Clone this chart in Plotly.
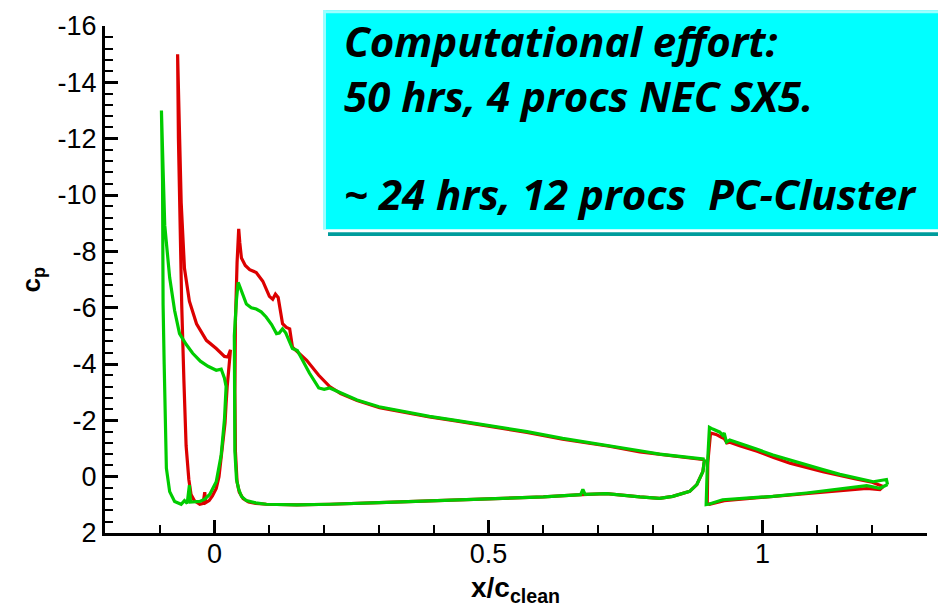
import plotly.graph_objects as go

# ---- Pressure distribution, three-element high-lift airfoil (slat / main / flap) ----
# Each element: upper surface listed from leading-edge peak to trailing edge,
# lower path listed from the same peak down through stagnation and back to the TE.

# Red series
red_slat_upper_x = [-0.0675, -0.064, -0.061, -0.055, -0.046, -0.033, -0.015, 0.003, 0.018, 0.024, 0.027, 0.029, 0.026, 0.023]
red_slat_upper_cp = [-15.0, -12.2, -9.74, -7.4, -6.23, -5.43, -4.84, -4.55, -4.27, -4.25, -4.4, -4.5, -3.9, -3.2]
red_slat_lower_x = [-0.0675, -0.066, -0.063, -0.060, -0.056, -0.052, -0.047, -0.043, -0.037, -0.031, -0.027, -0.021, -0.018, -0.016, -0.010, -0.004, 0.003, 0.008, 0.012, 0.016, 0.019, 0.021, 0.023]
red_slat_lower_cp = [-15.0, -12.0, -8.5, -6.1, -3.4, -1.1, 0.1, 0.63, 0.85, 0.95, 0.98, 0.95, 0.55, 0.92, 0.85, 0.68, 0.42, 0.0, -0.63, -1.3, -1.9, -2.6, -3.2]

red_main_upper_x = [0.044, 0.046, 0.049, 0.056, 0.064, 0.076, 0.088, 0.100, 0.106, 0.111, 0.116, 0.119, 0.124, 0.131, 0.137, 0.142, 0.168, 0.19, 0.21, 0.23, 0.26, 0.301, 0.35, 0.392, 0.44, 0.50, 0.57, 0.635, 0.72, 0.776, 0.812, 0.85, 0.894]
red_main_upper_cp = [-8.8, -8.3, -7.76, -7.5, -7.35, -7.25, -6.94, -6.4, -6.3, -6.48, -6.36, -6.1, -5.43, -5.3, -5.25, -4.6, -4.13, -3.6, -3.2, -2.95, -2.7, -2.45, -2.27, -2.12, -1.98, -1.8, -1.57, -1.33, -1.08, -0.88, -0.78, -0.7, -0.6]
red_main_lower_x = [0.044, 0.041, 0.038, 0.037, 0.038, 0.041, 0.045, 0.052, 0.062, 0.075, 0.095, 0.15, 0.21, 0.30, 0.40, 0.50, 0.60, 0.67, 0.715, 0.776, 0.812, 0.836, 0.867, 0.88, 0.891, 0.894]
red_main_lower_cp = [-8.8, -7.6, -5.5, -3.0, -0.9, 0.18, 0.55, 0.78, 0.9, 0.95, 0.98, 1.0, 0.98, 0.92, 0.86, 0.8, 0.72, 0.64, 0.6, 0.72, 0.77, 0.7, 0.52, 0.28, -0.18, -0.6]

red_flap_upper_x = [0.899, 0.900, 0.905, 0.915, 0.925, 0.930, 0.935, 0.940, 0.958, 0.99, 1.02, 1.05, 1.08, 1.11, 1.14, 1.17, 1.20, 1.214, 1.22]
red_flap_upper_cp = [0.95, -0.5, -1.55, -1.5, -1.4, -1.35, -1.2, -1.22, -1.1, -0.9, -0.68, -0.48, -0.33, -0.18, -0.04, 0.08, 0.2, 0.3, 0.35]
red_flap_lower_x = [0.899, 0.903, 0.93, 0.97, 1.02, 1.08, 1.14, 1.19, 1.214, 1.22]
red_flap_lower_cp = [0.95, 0.98, 0.85, 0.78, 0.7, 0.6, 0.5, 0.42, 0.46, 0.35]

# Green series
green_slat_upper_x = [-0.097, -0.094, -0.091, -0.082, -0.073, -0.064, -0.052, -0.040, -0.026, -0.012, 0.003, 0.012, 0.018, 0.021]
green_slat_upper_cp = [-13.0, -10.9, -8.93, -7.07, -5.9, -5.08, -4.7, -4.38, -4.1, -3.92, -3.78, -3.82, -3.5, -3.2]
green_slat_lower_x = [-0.097, -0.095, -0.094, -0.092, -0.091, -0.088, -0.082, -0.073, -0.061, -0.055, -0.050, -0.046, -0.044, -0.035, -0.027, -0.018, -0.009, 0.003, 0.012, 0.018, 0.021]
green_slat_lower_cp = [-13.0, -10.5, -6.1, -4.0, -2.6, -0.3, 0.53, 0.88, 0.98, 0.85, 0.95, 0.3, 0.9, 0.9, 0.88, 0.8, 0.63, 0.18, -0.77, -2.03, -3.2]

green_main_upper_x = [0.043, 0.047, 0.052, 0.058, 0.067, 0.076, 0.085, 0.094, 0.104, 0.113, 0.118, 0.124, 0.130, 0.142, 0.151, 0.162, 0.173, 0.19, 0.20, 0.21, 0.23, 0.26, 0.30, 0.35, 0.392, 0.44, 0.50, 0.57, 0.635, 0.70, 0.72, 0.776, 0.812, 0.85, 0.894]
green_main_upper_cp = [-6.9, -6.7, -6.48, -6.13, -6.0, -5.95, -5.85, -5.67, -5.4, -5.08, -5.1, -5.25, -5.1, -4.55, -4.48, -4.1, -3.68, -3.15, -3.1, -3.15, -2.98, -2.72, -2.48, -2.3, -2.14, -2.0, -1.83, -1.6, -1.36, -1.15, -1.1, -0.92, -0.8, -0.72, -0.62]
green_main_lower_x = [0.043, 0.040, 0.036, 0.036, 0.037, 0.040, 0.044, 0.049, 0.058, 0.075, 0.094, 0.15, 0.21, 0.30, 0.40, 0.50, 0.60, 0.668, 0.672, 0.676, 0.715, 0.776, 0.812, 0.836, 0.867, 0.88, 0.891, 0.894]
green_main_lower_cp = [-6.9, -6.3, -5.0, -3.0, -0.9, 0.1, 0.45, 0.7, 0.85, 0.93, 0.98, 1.0, 0.98, 0.92, 0.86, 0.8, 0.72, 0.64, 0.45, 0.63, 0.6, 0.72, 0.77, 0.7, 0.52, 0.28, -0.18, -0.62]

green_flap_upper_x = [0.897, 0.899, 0.903, 0.909, 0.922, 0.927, 0.930, 0.934, 0.940, 0.958, 0.99, 1.019, 1.05, 1.08, 1.11, 1.141, 1.17, 1.202, 1.226, 1.228]
green_flap_upper_cp = [0.99, -0.3, -1.75, -1.69, -1.58, -1.47, -1.55, -1.23, -1.3, -1.17, -0.97, -0.77, -0.6, -0.42, -0.25, -0.08, 0.05, 0.18, 0.1, 0.28]
green_flap_lower_x = [0.897, 0.903, 0.927, 0.97, 1.019, 1.08, 1.141, 1.19, 1.214, 1.228]
green_flap_lower_cp = [0.99, 0.97, 0.82, 0.76, 0.7, 0.58, 0.45, 0.32, 0.41, 0.28]

# Axis ticks
y_tick_vals = [-16, -14, -12, -10, -8, -6, -4, -2, 0, 2]
y_tick_text = ["-16", "-14", "-12", "-10", "-8", "-6", "-4", "-2", "0", "2"]
x_tick_vals = [0, 0.5, 1]
x_tick_text = ["0", "0.5", "1"]

info_header = ["Computational effort:", "50 hrs, 4 procs NEC SX5."]
info_cluster = "~ 24 hrs, 12 procs  PC-Cluster"


def loop(ux, ucp, lx, lcp):
    """Closed contour: upper surface TE->LE, then LE->stagnation->lower TE."""
    return list(reversed(ux)) + lx[1:], list(reversed(ucp)) + lcp[1:]


def join(*loops):
    xs, ys = [], []
    for i, (lx, ly) in enumerate(loops):
        if i:
            xs.append(None)
            ys.append(None)
        xs += lx
        ys += ly
    return xs, ys


red_x, red_cp = join(
    loop(red_slat_upper_x, red_slat_upper_cp, red_slat_lower_x, red_slat_lower_cp),
    loop(red_main_upper_x, red_main_upper_cp, red_main_lower_x, red_main_lower_cp),
    loop(red_flap_upper_x, red_flap_upper_cp, red_flap_lower_x, red_flap_lower_cp),
)
green_x, green_cp = join(
    loop(green_slat_upper_x, green_slat_upper_cp, green_slat_lower_x, green_slat_lower_cp),
    loop(green_main_upper_x, green_main_upper_cp, green_main_lower_x, green_main_lower_cp),
    loop(green_flap_upper_x, green_flap_upper_cp, green_flap_lower_x, green_flap_lower_cp),
)

W, H = 938, 611
ML, MR, MT, MB = 105, 11, 19, 78
PW, PH = W - ML - MR, H - MT - MB


def px(x):
    return (x - ML) / PW


def py(y):
    return (H - MB - y) / PH


fig = go.Figure()
fig.add_trace(go.Scatter(x=red_x, y=red_cp, mode="lines",
                         line=dict(color="#DC0000", width=3.2), connectgaps=False))
fig.add_trace(go.Scatter(x=green_x, y=green_cp, mode="lines",
                         line=dict(color="#00CC00", width=3.2), connectgaps=False))

tick_font = dict(family="Liberation Sans, Arial, sans-serif", size=27, color="black")

fig.update_layout(
    width=W, height=H, autosize=False,
    margin=dict(l=ML, r=MR, t=MT, b=MB, pad=0),
    plot_bgcolor="white", paper_bgcolor="white",
    showlegend=False,
    xaxis=dict(
        range=[-0.2, 1.3], tickmode="array", tickvals=x_tick_vals, ticktext=x_tick_text,
        ticks="inside", ticklen=13, tickwidth=2.5, tickcolor="black",
        minor=dict(tickmode="linear", tick0=0, dtick=0.1, ticks="inside", ticklen=8,
                   tickwidth=2, tickcolor="black"),
        showline=True, linewidth=3, linecolor="black",
        showgrid=False, zeroline=False, tickfont=tick_font,
        ticklabelstandoff=-5,
    ),
    yaxis=dict(
        range=[2, -16], tickmode="array", tickvals=y_tick_vals, ticktext=y_tick_text,
        ticks="inside", ticklen=13, tickwidth=2.5, tickcolor="black",
        minor=dict(tickmode="linear", tick0=0, dtick=0.4, ticks="inside", ticklen=8,
                   tickwidth=2, tickcolor="black"),
        showline=True, linewidth=3, linecolor="black",
        showgrid=False, zeroline=False, tickfont=tick_font,
    ),
)

# Info box with drop shadow
shapes = [
    dict(type="rect", xref="paper", yref="paper", x0=px(328), x1=px(950), y0=py(232), y1=py(228),
         fillcolor="#009C9C", line=dict(width=0), layer="above"),
    dict(type="rect", xref="paper", yref="paper", x0=px(323), x1=px(950), y0=py(225), y1=py(3),
         fillcolor="#00FFFF", line=dict(width=0), layer="above"),
    dict(type="rect", xref="paper", yref="paper", x0=px(323), x1=px(326), y0=py(225), y1=py(3),
         fillcolor="#9CFFFF", line=dict(width=0), layer="above"),
    dict(type="rect", xref="paper", yref="paper", x0=px(323), x1=px(950), y0=py(6), y1=py(3),
         fillcolor="#9CFFFF", line=dict(width=0), layer="above"),
]
fig.update_layout(shapes=shapes)

box_font = dict(family="Open Sans, Noto Sans, sans-serif", size=42, color="black",
                weight="bold", style="italic")
fig.add_annotation(text="<br>".join(info_header), xref="paper", yref="paper",
                   x=px(342), y=py(62), xanchor="left", yanchor="middle", align="left",
                   showarrow=False, font=box_font)
fig.add_annotation(text=info_cluster, xref="paper", yref="paper",
                   x=px(342), y=py(189), xanchor="left", yanchor="middle", align="left",
                   showarrow=False, font=box_font)

# Axis titles
fig.add_annotation(text="<b>x/c<sub>clean</sub></b>", xref="paper", yref="paper",
                   x=px(515), y=py(590), xanchor="center", yanchor="middle", showarrow=False,
                   font=dict(family="Liberation Sans, Arial, sans-serif", size=28, color="black"))
fig.add_annotation(text="<b>c<sub>p</sub></b>", xref="paper", yref="paper",
                   x=px(32), y=py(276), xanchor="center", yanchor="middle", showarrow=False,
                   textangle=-90,
                   font=dict(family="Liberation Sans, Arial, sans-serif", size=26, color="black"))

fig.write_html("out.html")
